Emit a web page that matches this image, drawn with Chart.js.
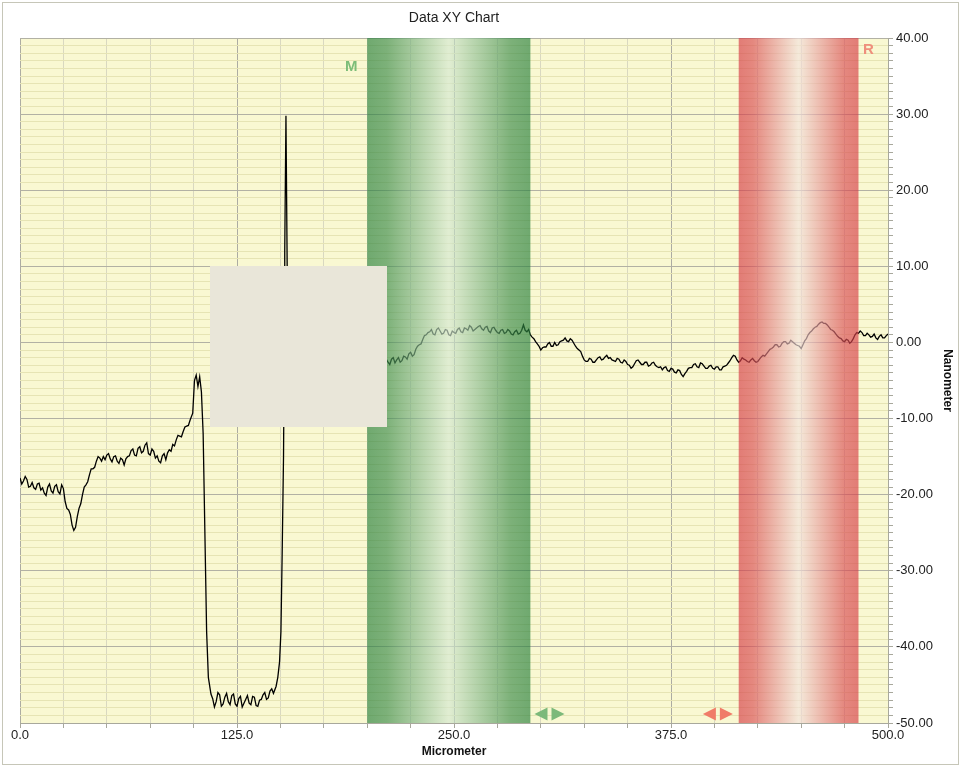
<!DOCTYPE html>
<html>
<head>
<meta charset="utf-8">
<script src="https://cdn.jsdelivr.net/npm/chart.js@4.4.0/dist/chart.umd.min.js"></script>
<style>
html,body{margin:0;padding:0;background:#fff;}
#wrap{width:961px;height:766px;}
</style>
</head>
<body>
<div id="wrap"><canvas id="c" width="961" height="766"></canvas></div>
<script>
// ---- data ----
const xValues = [0,2,4,6,8,10,12,14,16,18,20,22,24,26,28,30,32,34,36,38,40,42,44,46,48,50,52,54,56,58,60,62,64,66,68,70,72,74,76,78,80,82,84,86,88,90,92,94,96,98,99.5,100.5,101.5,102.5,103.5,104.5,105.5,106.5,107.5,108.5,110,112,114,116,118,120,122,124,126,128,130,132,134,136,138,140,142,144,146,147.5,148.5,149.5,150.3,151,151.8,152.25,152.5,153.2,153.9,154.4,155,156,158,160,162,164,166,168,170,172,174,176,178,180,182,184,186,188,190,192,194,196,198,200,202,204,206,208,210,212,214,216,218,220,222,224,226,228,230,232,234,236,238,240,242,244,246,248,250,252,254,256,258,260,262,264,266,268,270,272,274,276,278,280,282,284,286,288,290,292,294,296,298,300,302,304,306,308,310,312,314,316,318,320,322,324,326,328,330,332,334,336,338,340,342,344,346,348,350,352,354,356,358,360,362,364,366,368,370,372,374,376,378,380,382,384,386,388,390,392,394,396,398,400,402,404,406,408,410,412,414,416,418,420,422,424,426,428,430,432,434,436,438,440,442,444,446,448,450,452,454,456,458,460,462,464,466,468,470,472,474,476,478,480,482,484,486,488,490,492,494,496,498,500];
const yValues = [-17.8,-18.2,-18.0,-18.9,-19.1,-18.6,-19.4,-19.8,-19.0,-19.5,-18.9,-19.6,-18.7,-20.9,-22.0,-24.0,-24.3,-21.8,-20.0,-18.7,-17.4,-16.6,-15.6,-15.2,-15.0,-14.8,-15.3,-15.0,-15.6,-15.2,-16.1,-15.0,-14.2,-14.8,-13.9,-14.5,-13.5,-14.6,-14.0,-15.2,-15.6,-14.9,-15.4,-14.1,-13.4,-12.8,-12.3,-11.7,-11.0,-10.2,-9.3,-5.0,-4.3,-5.8,-4.5,-6.5,-12,-25,-38,-44,-46.2,-47.9,-46.0,-47.8,-46.6,-47.2,-46.4,-47.5,-46.8,-47.9,-46.9,-47.4,-46.5,-47.7,-47.0,-46.3,-46.9,-45.8,-46.1,-45.2,-44.0,-42.0,-38.0,-28.0,-15.0,0,12,29.8,10,0,-2.0,-2.2,-1.8,-2.4,-2.0,-2.6,-2.1,-2.5,-1.9,-2.3,-2.7,-2.2,-2.5,-2.0,-2.4,-2.8,-2.3,-2.6,-2.1,-2.5,-2.9,-2.4,-2.7,-2.2,-2.6,-2.3,-2.8,-2.4,-2.7,-2.6,-2.2,-2.7,-2.0,-2.4,-1.9,-1.5,-1.8,-0.9,-0.3,0.4,1.0,1.4,1.1,1.7,1.5,1.2,1.6,0.9,1.3,1.7,1.4,1.9,1.6,2.0,1.7,2.1,1.8,2.0,1.5,1.9,1.6,1.2,1.7,1.3,1.5,1.0,1.6,1.2,2.3,1.4,1.0,0.5,-0.2,-1.0,-0.6,-0.2,-0.5,0.0,-0.3,0.2,0.6,0.1,0.3,-0.5,-1.0,-1.8,-2.5,-2.1,-2.6,-2.3,-1.9,-2.2,-1.7,-2.0,-2.4,-2.1,-2.6,-2.3,-2.9,-3.4,-2.8,-2.3,-2.9,-2.6,-3.1,-2.7,-3.0,-3.3,-3.6,-3.2,-3.8,-3.5,-4.0,-3.7,-4.5,-3.8,-3.3,-2.9,-3.2,-2.7,-3.1,-3.4,-3.0,-3.5,-3.2,-3.6,-3.1,-2.7,-2.0,-1.8,-2.6,-2.0,-2.3,-2.6,-2.1,-2.6,-2.2,-1.7,-1.5,-0.9,-0.6,-0.3,-0.5,0.1,-0.2,0.3,-0.1,-0.4,-0.8,0.2,1.0,1.5,2.0,2.4,2.7,2.5,2.0,1.6,1.1,0.6,0.2,0.4,-0.1,0.5,1.3,1.5,0.9,1.2,0.7,1.1,0.4,1.0,0.6,1.1];
// in-between samples (odd micrometer positions) that carry the fine noise
const xMid = [1,3,5,7,9,11,13,15,17,19,21,23,25,27,29,31,33,35,37,39,41,43,45,47,49,51,53,55,57,59,61,63,65,67,69,71,73,75,77,79,81,83,85,87,89,91,93,95,97,111,113,115,117,119,121,123,125,127,129,131,133,135,137,139,141,143,145,211,213,215,217,219,221,223,225,227,229,231,233,235,237,239,241,243,245,247,249,251,253,255,257,259,261,263,265,267,269,271,273,275,277,279,281,283,285,287,289,291,293,295,297,299,301,303,305,307,309,311,313,315,317,319,321,323,325,327,329,331,333,335,337,339,341,343,345,347,349,351,353,355,357,359,361,363,365,367,369,371,373,375,377,379,381,383,385,387,389,391,393,395,397,399,401,403,405,407,409,411,413,415,417,419,421,423,425,427,429,431,433,435,437,439,441,443,445,447,449,451,453,455,457,459,461,463,465,467,469,471,473,475,477,479,481,483,485,487,489,491,493,495,497,499];
const yMid = [-18.6,-17.6,-19.0,-18.4,-19.3,-18.5,-19.1,-20.1,-18.6,-19.8,-18.7,-19.9,-19.2,-21.8,-22.6,-24.7,-22.9,-21.2,-19.0,-18.3,-16.6,-16.4,-15.0,-15.6,-15.4,-14.6,-15.7,-14.9,-15.9,-15.4,-15.3,-14.9,-14.0,-14.9,-13.7,-14.3,-13.2,-14.8,-14.3,-14.9,-15.8,-14.6,-14.5,-14.3,-13.6,-12.2,-12.4,-11.1,-10.9,-46.8,-47.2,-46.3,-47.5,-46.1,-47.6,-46.2,-47.8,-46.5,-47.4,-46.4,-47.6,-46.6,-47.8,-46.9,-46.0,-46.7,-45.5,-2.2,-2.9,-2.0,-2.3,-2.6,-1.8,-2.2,-1.3,-1.6,-0.5,-0.2,0.9,1.3,1.7,1.0,1.9,1.1,1.7,1.0,1.5,1.2,1.9,1.3,1.8,2.2,1.5,1.9,2.2,1.6,2.1,1.3,2.0,1.3,1.6,1.2,1.7,1.1,1.4,1.1,1.6,1.6,1.7,0.7,0.1,-0.5,-0.7,-0.6,0.0,-0.5,-0.4,0.1,0.3,0.2,0.5,-0.1,-0.8,-1.2,-2.3,-2.5,-2.2,-2.6,-2.0,-2.3,-1.9,-2.1,-2.3,-2.5,-2.2,-2.7,-2.5,-3.0,-3.2,-2.4,-2.6,-2.9,-2.6,-3.0,-2.6,-3.2,-3.2,-3.3,-3.7,-3.4,-3.9,-3.6,-4.2,-4.1,-3.4,-3.3,-2.8,-3.3,-2.8,-3.4,-3.1,-3.4,-3.2,-3.6,-3.2,-3.0,-2.4,-1.7,-2.3,-2.4,-2.2,-2.5,-2.3,-2.4,-2.5,-1.9,-1.8,-1.2,-0.8,-0.3,-0.6,-0.1,0.1,-0.1,0.1,-0.3,-0.5,-0.3,0.5,1.3,1.8,2.1,2.6,2.5,2.3,1.7,1.4,0.8,0.5,0.1,0.3,0.1,1.0,1.2,1.3,0.9,1.0,0.8,0.6,0.8,0.6,0.9];
const xTickLabels = ['0.0','125.0','250.0','375.0','500.0'];
const yTickLabels = ['40.00','30.00','20.00','10.00','0.00','-10.00','-20.00','-30.00','-40.00','-50.00'];
const bandM = [200, 294];
const bandR = [414, 483];
const handleM = 305;
const handleR = 402;

const points = xValues.map((x, i) => ({x: x, y: yValues[i]}))
  .concat(xMid.map((x, i) => ({x: x, y: yMid[i]})))
  .sort((a, b) => a.x - b.x);

const FONT = "'Liberation Sans', Arial, sans-serif";

const decor = {
  id: 'decor',
  beforeDraw(chart) {
    const ctx = chart.ctx, a = chart.chartArea;
    ctx.save();
    ctx.fillStyle = '#ffffff';
    ctx.fillRect(0, 0, chart.width, chart.height);
    ctx.strokeStyle = '#c6c6b8';
    ctx.lineWidth = 1;
    ctx.strokeRect(2.5, 2.5, chart.width - 5, chart.height - 4);
    ctx.fillStyle = '#f9f8d2';
    ctx.fillRect(a.left, a.top, a.right - a.left, a.bottom - a.top);
    ctx.restore();
  },
  afterDatasetsDraw(chart) {
    const ctx = chart.ctx, a = chart.chartArea;
    const xs = chart.scales.x;
    ctx.save();
    // green band
    let x0 = xs.getPixelForValue(bandM[0]), x1 = xs.getPixelForValue(bandM[1]);
    let g = ctx.createLinearGradient(x0, 0, x1, 0);
    g.addColorStop(0, 'rgba(40,128,60,0.66)');
    g.addColorStop(0.12, 'rgba(60,140,75,0.66)');
    g.addColorStop(0.5, 'rgba(212,232,210,0.66)');
    g.addColorStop(0.88, 'rgba(60,140,75,0.66)');
    g.addColorStop(1, 'rgba(40,128,60,0.66)');
    ctx.fillStyle = g;
    ctx.fillRect(x0, a.top, x1 - x0, a.bottom - a.top);
    // red band
    x0 = xs.getPixelForValue(bandR[0]); x1 = xs.getPixelForValue(bandR[1]);
    g = ctx.createLinearGradient(x0, 0, x1, 0);
    g.addColorStop(0, 'rgba(214,60,70,0.66)');
    g.addColorStop(0.12, 'rgba(218,78,84,0.66)');
    g.addColorStop(0.5, 'rgba(242,226,222,0.66)');
    g.addColorStop(0.88, 'rgba(218,78,84,0.66)');
    g.addColorStop(1, 'rgba(214,60,70,0.66)');
    ctx.fillStyle = g;
    ctx.fillRect(x0, a.top, x1 - x0, a.bottom - a.top);

    // covering box
    ctx.fillStyle = '#e9e6d9';
    ctx.fillRect(a.left + 190, a.top + 228, 177, 161);

    // labels M / R
    ctx.font = 'bold 15px ' + FONT;
    ctx.textBaseline = 'middle';
    ctx.textAlign = 'center';
    ctx.fillStyle = '#7cbd78';
    ctx.fillText('M', xs.getPixelForValue(bandM[0]) - 16, a.top + 29);
    ctx.fillStyle = '#ef8f7c';
    ctx.fillText('R', xs.getPixelForValue(bandR[1]) + 10, a.top + 12);

    // handles
    const drawHandle = (xv, col) => {
      const cx = xs.getPixelForValue(xv);
      const cy = a.bottom - 9;
      ctx.fillStyle = col;
      ctx.beginPath();
      ctx.moveTo(cx - 15, cy); ctx.lineTo(cx - 2, cy - 6.5); ctx.lineTo(cx - 2, cy + 6.5); ctx.closePath();
      ctx.fill();
      ctx.beginPath();
      ctx.moveTo(cx + 15, cy); ctx.lineTo(cx + 2, cy - 6.5); ctx.lineTo(cx + 2, cy + 6.5); ctx.closePath();
      ctx.fill();
    };
    drawHandle(handleM, '#7cb97a');
    drawHandle(handleR, '#f07c68');
    ctx.restore();
  }
};

new Chart(document.getElementById('c'), {
  type: 'scatter',
  data: {
    datasets: [{
      data: points,
      showLine: true,
      borderColor: '#000000',
      borderWidth: 1.3,
      pointRadius: 0,
      pointHoverRadius: 0,
      tension: 0
    }]
  },
  options: {
    responsive: false,
    animation: false,
    events: [],
    layout: {padding: {left: 20, right: 0, top: 0, bottom: 0}},
    plugins: {
      legend: {display: false},
      tooltip: {enabled: false},
      title: {
        display: true,
        fullSize: false,
        text: 'Data XY Chart',
        color: '#222',
        font: {family: FONT, size: 14, weight: 'normal', lineHeight: 1.2},
        padding: {top: 10, bottom: 11.2}
      }
    },
    scales: {
      x: {
        type: 'linear',
        min: 0, max: 500,
        afterFit(s) { s.height = 43; },
        border: {display: true, color: '#a8a89c', width: 1},
        grid: {
          drawOnChartArea: true,
          tickLength: 5,
          color: (c) => (c.tick && c.tick.value % 125 === 0) ? '#acaca2' : '#d9d8c0',
          tickColor: '#a8a89c'
        },
        ticks: {
          stepSize: 25,
          autoSkip: false,
          maxRotation: 0,
          padding: 0,
          color: '#222',
          font: {family: FONT, size: 13},
          callback: (v) => (v % 125 === 0) ? xTickLabels[v / 125] : ''
        },
        title: {
          display: true,
          text: 'Micrometer',
          color: '#111',
          font: {family: FONT, size: 12, weight: 'bold', lineHeight: 1.2},
          padding: {top: 0, bottom: 7}
        }
      },
      y: {
        type: 'linear',
        position: 'right',
        min: -50, max: 40,
        afterFit(s) { s.width = 73; },
        border: {display: true, color: '#a8a89c', width: 1},
        grid: {
          tickLength: 5,
          color: (c) => (c.tick && c.tick.value % 10 === 0) ? '#b2b1a4' : '#e6e4b4',
          tickColor: '#a8a89c'
        },
        ticks: {
          stepSize: 1,
          autoSkip: false,
          padding: 3,
          color: '#222',
          font: {family: FONT, size: 13},
          callback: (v) => (v % 10 === 0) ? yTickLabels[(40 - v) / 10] : ''
        },
        title: {
          display: true,
          text: 'Nanometer',
          color: '#111',
          font: {family: FONT, size: 12, weight: 'bold', lineHeight: 1.2},
          padding: {top: 6, bottom: 0}
        }
      }
    }
  },
  plugins: [decor]
});
</script>
</body>
</html>
